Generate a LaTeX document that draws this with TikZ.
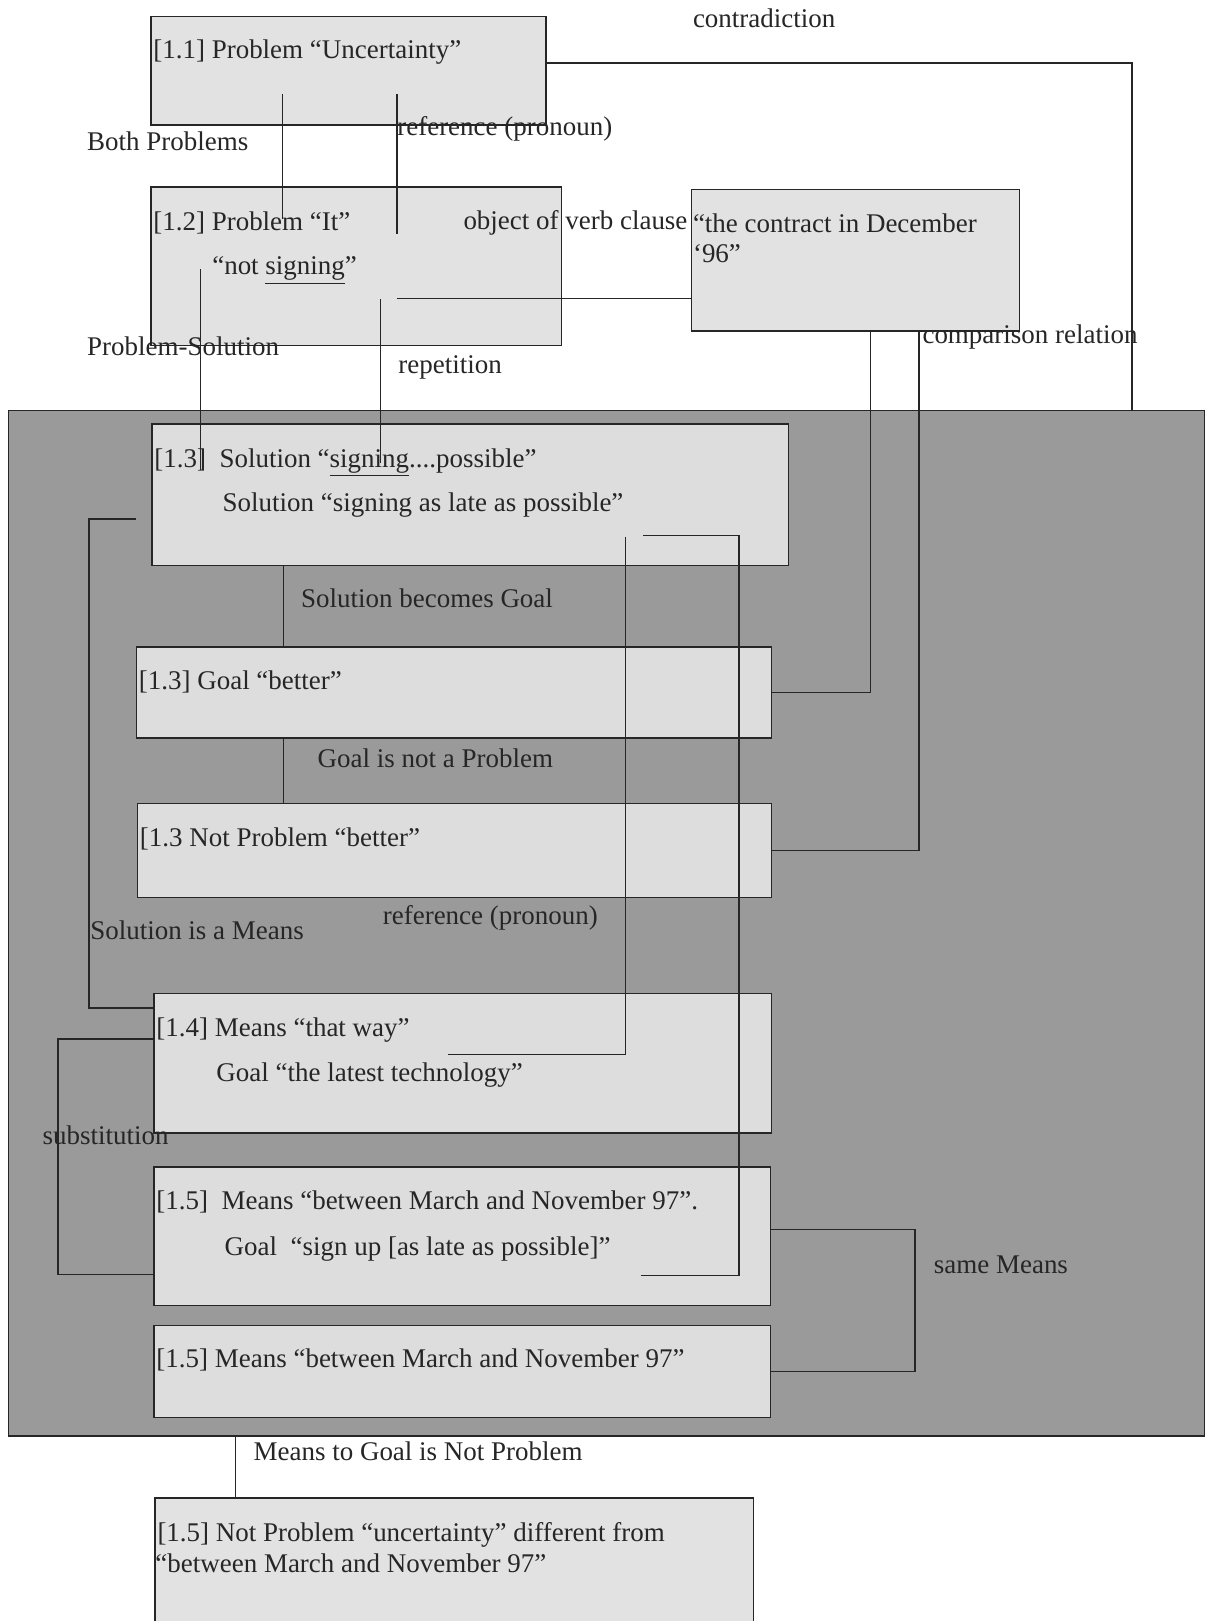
\documentclass[tikz,border=0pt]{standalone}
\usepackage{fontspec}
\setmainfont{Liberation Serif}
\usetikzlibrary{fit}
\definecolor{boxgrey}{HTML}{E2E2E2}
\definecolor{ingrey}{HTML}{DDDDDD}
\definecolor{bggrey}{HTML}{9A9A9A}
\definecolor{inkgrey}{HTML}{262626}

\begin{document}
\begin{tikzpicture}[
    x=0.02cm, y=-0.02cm,
    font=\fontsize{14.85}{17}\selectfont,
    box/.style={draw=inkgrey, fill=boxgrey, inner sep=0pt, line width=0.75pt},
    inbox/.style={box, fill=ingrey},
    txt/.style={anchor=base west, inner sep=0pt, text=inkgrey},
    link/.style={draw=inkgrey, line width=0.75pt}
  ]
    \useasboundingbox (0,0) rectangle (1168,1568);
    \fill[white] (0,0) rectangle (1168,1568);

    % shaded region
    \node[box, fill=bggrey, fit={(8,397) (1165,1389)}] (zone) {};

    % boxes
    \node[box, fit={(146,16) (528,121)}] (p11) {};
    \node[box, fit={(146,181) (543,334)}] (p12) {};
    \node[box, fit={(669,183) (986,320)}] (dec) {};
    \node[inbox, fit={(147,410) (763,547)}] (p13) {};
    \node[inbox, fit={(132,626) (746,714)}] (goal) {};
    \node[inbox, fit={(133,777) (746,868)}] (notp) {};
    \node[inbox, fit={(149,961) (746,1096)}] (p14) {};
    \node[inbox, fit={(149,1129) (745,1263)}] (p15a) {};
    \node[inbox, fit={(149,1282) (745,1371)}] (p15b) {};
    \node[box, fit={(150,1449) (729,1600)}] (bot) {};

    % box texts
    \node[txt] (p11a) at (148,57) {[1.1] Problem “Uncertainty”};
    \node[txt] (p12a) at (148,223) {[1.2] Problem “It”};
    \node[txt] (p12b) at (205,266) {“not \underline{signing}”};
    \node[txt] (deca) at (670,225) {“the contract in December};
    \node[txt] (decb) at (670,254) {‘96”};
    \node[txt] (p13a) at (149,452) {[1.3]\ \ Solution “\underline{signing}....possible”};
    \node[txt] (p13b) at (215,495) {Solution “signing as late as possible”};
    \node[txt] (goala) at (134,667) {[1.3] Goal “better”};
    \node[txt] (notpa) at (135,819) {[1.3 Not Problem “better”};
    \node[txt] (p14a) at (151,1003) {[1.4] Means “that way”};
    \node[txt] (p14b) at (209,1046) {Goal “the latest technology”};
    \node[txt] (p15aa) at (151,1170) {[1.5]\ \ Means “between March and November 97”.};
    \node[txt] (p15ab) at (217,1214) {Goal\ \ “sign up [as late as possible]”};
    \node[txt] (p15ba) at (151,1323) {[1.5] Means “between March and November 97”};
    \node[txt] (bota) at (152,1491) {[1.5] Not Problem “uncertainty” different from};
    \node[txt] (botb) at (150,1521) {“between March and November 97”};

    % relation labels
    \node[txt] (lcon) at (670,27) {contradiction};
    \node[txt] (lboth) at (84,146) {Both Problems};
    \node[txt] (lref) at (384,131) {reference (pronoun)};
    \node[txt] (lobj) at (448,222) {object of verb clause};
    \node[txt] (lps) at (84,344) {Problem-Solution};
    \node[txt] (lrep) at (385,361) {repetition};
    \node[txt] (lcmp) at (892,332) {comparison relation};
    \node[txt] (lsbg) at (291,588) {Solution becomes Goal};
    \node[txt] (lgnp) at (307,742) {Goal is not a Problem};
    \node[txt] (lref2) at (370,894) {reference (pronoun)};
    \node[txt] (lsim) at (87,909) {Solution is a Means};
    \node[txt] (lsub) at (41,1107) {substitution};
    \node[txt] (lsame) at (903,1232) {same Means};
    \node[txt] (lmtg) at (245,1413) {Means to Goal is Not Problem};

    % connectors
    \coordinate (cd) at (1095,61);
    \draw[link] (p11.east |- cd) -| (zone.north -| cd);
    \coordinate (bp1) at (273,91);
    \coordinate (bp2) at (273,212);
    \draw[link] (bp1) -- (bp2);
    \coordinate (rf1) at (384,91);
    \coordinate (rf2) at (384,226);
    \draw[link] (rf1) -- (rf2);
    \coordinate (ov) at (384,289);
    \draw[link] (ov) -- (ov -| dec.west);
    \coordinate (rp1) at (368,289);
    \coordinate (rp2) at (368,448);
    \draw[link] (rp1) -- (rp2);
    \coordinate (ps1) at (194,260);
    \coordinate (ps2) at (194,455);
    \draw[link] (ps1) -- (ps2);
    \coordinate (cm1) at (842,0);
    \coordinate (cm2) at (889,0);
    \draw[link] (dec.south -| cm1) |- (goal.east);
    \draw[link] (dec.south -| cm2) |- (notp.east);
    \coordinate (sg) at (274,0);
    \draw[link] (p13.south -| sg) -- (goal.north -| sg);
    \draw[link] (goal.south -| sg) -- (notp.north -| sg);
    \coordinate (sm1) at (132,502);
    \coordinate (sm2) at (86,975);
    \draw[link] (sm1) -| (sm2) -- (sm2 -| p14.west);
    \coordinate (sb1) at (56,1005);
    \coordinate (sb2) at (56,1233);
    \draw[link] (sb1 -| p14.west) -- (sb1) -- (sb2) -- (sb2 -| p15a.west);
    \coordinate (ip1) at (605,519);
    \coordinate (ip2) at (433,1020);
    \draw[link] (ip1) |- (ip2);
    \coordinate (lt1) at (622,518);
    \coordinate (lt2) at (715,1234);
    \coordinate (lt3) at (620,1234);
    \draw[link] (lt1) -| (lt2) -- (lt3);
    \coordinate (smn) at (885,1189);
    \draw[link] (p15a.east |- smn) -| (smn |- p15b.east) -- (p15b.east);
    \coordinate (mg) at (228,0);
    \draw[link] (zone.south -| mg) -- (bot.north -| mg);
  \end{tikzpicture}
\end{document}
